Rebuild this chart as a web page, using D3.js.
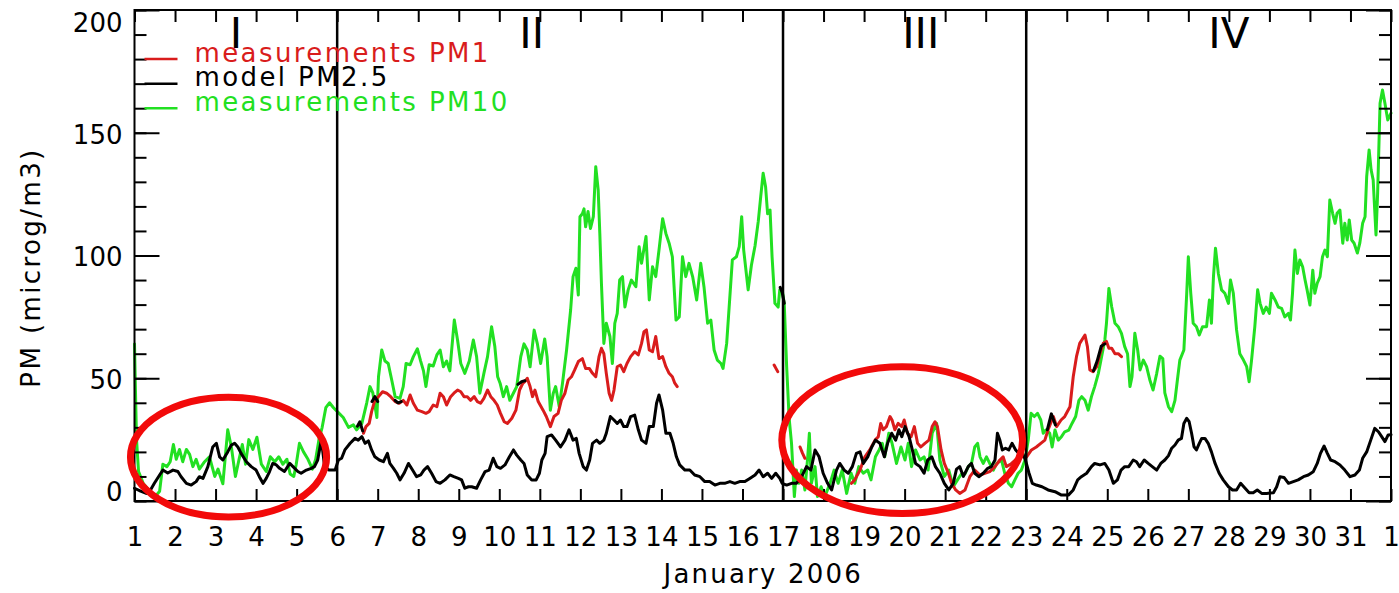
<!DOCTYPE html>
<html>
<head>
<meta charset="utf-8">
<script src="https://cdn.jsdelivr.net/npm/d3@7"></script>
<style>
  html, body { margin: 0; padding: 0; background: #fff; overflow: hidden; }
  svg { display: block; }
  text { font-family: "DejaVu Sans", sans-serif; }
</style>
</head>
<body>
<svg id="chart" width="1399" height="593"></svg>
<script>
// ---- tick values and labels ----
const dayTicks = d3.range(1, 33);                       // 1 Jan ... 1 Feb
const dayLabels = [...d3.range(1, 32).map(String), "1"];
const pmMajorTicks = [0, 50, 100, 150, 200];
const pmMinorTicks = d3.range(0, 201, 10);

// ---- episodes ----
const periodNames = ["I", "II", "III", "IV"];
const periodNameDays = [3.5, 10.8, 20.4, 28.0];
const periodBounds = [6, 17, 23];

// ---- legend ----
const seriesNames = ["measurements PM1", "model PM2.5", "measurements PM10"];

// ---- measured PM10 [day, microg/m3] ----
const pm10 = [
  [1.00,64],[1.02,48],[1.05,25],[1.10,12],[1.22,7],[1.38,4],[1.52,2],[1.62,4],[1.70,15],[1.80,14],
  [1.88,16],[1.96,23],[2.03,17],[2.11,21],[2.19,16],[2.28,21],[2.36,19],[2.44,14],[2.52,17],[2.60,13],
  [2.73,16],[2.85,18],[2.98,10],[3.06,13],[3.18,7],[3.30,29],[3.39,22],[3.49,10],[3.58,17],[3.66,23],
  [3.74,15],[3.82,25],[3.92,21],[4.02,26],[4.13,15],[4.25,12],[4.35,18],[4.46,16],[4.56,18],[4.66,15],
  [4.76,17],[4.84,11],[4.93,10],[4.99,15],[5.07,23.5],[5.17,20],[5.28,17],[5.39,13],[5.47,17],[5.55,25],
  [5.63,30],[5.72,38],[5.81,40],[5.91,38],[6.03,36],[6.15,34],[6.28,30],[6.40,31],[6.48,29],[6.61,31.6],
  [6.73,40],[6.81,46.6],[6.88,44],[6.92,40],[6.98,34],[7.02,50.6],[7.10,61.5],[7.18,57],[7.26,56],[7.35,49],
  [7.43,42.5],[7.55,41.8],[7.63,46.6],[7.70,56],[7.80,55.5],[7.88,58.8],[7.98,62],[8.06,57],[8.13,53],[8.19,46.6],
  [8.27,55.5],[8.37,55],[8.46,59.5],[8.54,61.5],[8.62,54.7],[8.70,57],[8.78,53],[8.89,73.7],[8.97,65.6],[9.05,56],
  [9.15,52],[9.26,57],[9.36,65.6],[9.44,58.8],[9.52,43.9],[9.62,52],[9.71,58.8],[9.81,71],[9.89,62.9],[9.96,50.6],
  [10.02,48],[10.10,42.5],[10.18,46.6],[10.26,41],[10.35,44],[10.43,46.6],[10.53,58.8],[10.61,64],[10.69,61.5],[10.76,54.7],
  [10.86,69.6],[10.94,64],[11.02,56],[11.08,62],[11.12,66],[11.18,58.8],[11.26,37],[11.33,43.8],[11.39,46.6],[11.48,38.4],
  [11.56,48],[11.66,61.5],[11.76,77.8],[11.82,91.4],[11.89,94.8],[11.95,83.9],[11.99,115.8],[12.05,117],[12.09,119],[12.13,111.7],
  [12.19,117.9],[12.25,111],[12.32,115.8],[12.38,136.2],[12.44,126.7],[12.48,109],[12.52,88.7],[12.58,64.2],[12.64,72.4],[12.73,67],
  [12.79,56],[12.85,72.4],[12.91,76.4],[12.97,90],[13.04,91.4],[13.10,79],[13.18,86],[13.26,90],[13.37,87.3],[13.45,103.6],
  [13.51,96.8],[13.62,107.7],[13.70,81.9],[13.78,95.4],[13.86,91.4],[13.94,102.2],[14.03,115],[14.11,109],[14.19,105],[14.27,99.5],
  [14.36,73.7],[14.44,75],[14.52,99.5],[14.60,91.4],[14.68,96.8],[14.77,91.4],[14.87,81.9],[14.97,96.8],[15.05,87.3],[15.14,72.4],
  [15.22,73.7],[15.30,61.5],[15.38,57.4],[15.47,56],[15.52,54],[15.61,64.2],[15.70,86],[15.75,98.2],[15.85,99.5],[15.92,103.6],
  [15.98,115.8],[16.03,102.2],[16.14,86],[16.22,96],[16.31,104],[16.39,114],[16.45,124],[16.51,133.5],[16.57,128],[16.62,117],
  [16.68,118.5],[16.73,99.5],[16.80,80.5],[16.88,79],[16.92,86],[16.98,86],[17.03,80.5],[17.09,54.7],[17.15,34],[17.21,23.5],
  [17.28,1.8],[17.33,12.6],[17.39,7.2],[17.46,12.6],[17.54,4.5],[17.61,18],[17.65,27.6],[17.70,7.2],[17.79,14],[17.85,1.8],
  [17.94,5.8],[18.03,1.8],[18.16,7.2],[18.26,12.6],[18.36,7.2],[18.46,12.6],[18.57,3.1],[18.68,11.3],[18.77,7.2],[18.87,14],
  [18.98,11.3],[19.09,12.6],[19.17,8.6],[19.28,18],[19.37,20.8],[19.45,23.5],[19.51,18],[19.61,27.6],[19.69,23.5],[19.80,15.3],
  [19.91,22],[20.01,16.7],[20.09,23.5],[20.17,14],[20.27,20.8],[20.38,16.7],[20.48,18],[20.58,12.6],[20.68,27.6],[20.79,31.6],
  [20.87,16.7],[20.98,10],[21.09,12.6],[21.20,5.8],[21.32,9],[21.40,11],[21.49,11],[21.57,14],[21.65,15.3],[21.73,22],
  [21.80,23.5],[21.86,18],[21.94,15.3],[22.02,18],[22.10,15.3],[22.19,12.6],[22.27,15.3],[22.39,16.7],[22.47,11.3],[22.56,7.2],
  [22.64,5.8],[22.72,8.6],[22.80,11.3],[22.88,12.6],[22.97,16.7],[23.05,24.8],[23.12,35.7],[23.20,34.4],[23.28,35.7],[23.36,33],
  [23.42,27.6],[23.48,28.9],[23.58,27.6],[23.64,22],[23.71,28.9],[23.79,24.8],[23.87,26.2],[23.95,28.2],[24.05,28.9],[24.13,31.6],
  [24.22,34.4],[24.30,41],[24.37,42.5],[24.45,41],[24.53,37],[24.61,42.5],[24.69,46.6],[24.78,52],[24.86,58.8],[24.94,65.6],
  [24.98,72.4],[25.04,86.6],[25.11,79],[25.19,72.4],[25.27,71],[25.35,68.3],[25.43,62.9],[25.50,60],[25.56,46.6],[25.61,50.6],
  [25.68,68.3],[25.75,61.5],[25.81,53.4],[25.89,57.4],[25.97,54.7],[26.05,49.3],[26.13,45.2],[26.22,52],[26.30,59],[26.37,58],
  [26.42,44],[26.51,38.4],[26.59,36.4],[26.67,41],[26.73,49.3],[26.79,57.4],[26.89,61.5],[26.96,84.6],[27.00,99.5],[27.06,84.6],
  [27.12,72.4],[27.20,71],[27.27,67.6],[27.35,71],[27.45,71],[27.52,81.9],[27.57,72.4],[27.62,91.4],[27.67,103],[27.74,92.7],
  [27.82,86],[27.90,84.6],[27.99,80.5],[28.04,90],[28.11,84.6],[28.19,69.7],[28.27,60],[28.36,57.4],[28.44,54.7],[28.50,48.6],
  [28.56,57.4],[28.64,71],[28.71,86],[28.77,80.5],[28.85,76.4],[28.92,79],[29.00,76.4],[29.05,84.6],[29.14,81.9],[29.22,79],
  [29.30,78.5],[29.38,75],[29.47,76.4],[29.52,73.7],[29.57,84.6],[29.63,102.2],[29.69,92.7],[29.75,98.2],[29.82,95.4],[29.88,90],
  [29.93,86],[30.00,79.8],[30.07,94],[30.12,84.6],[30.18,88.7],[30.25,91.4],[30.31,99.5],[30.37,102.2],[30.43,99.5],[30.49,122.6],
  [30.56,117.2],[30.62,113.1],[30.67,117.2],[30.74,118.5],[30.81,105],[30.86,113.1],[30.92,106.3],[30.97,114.5],[31.03,106.3],[31.09,105],
  [31.17,101],[31.23,105],[31.30,113.1],[31.36,115.8],[31.40,132.1],[31.46,143],[31.51,134.8],[31.56,130.8],[31.63,108.4],[31.67,125.3],
  [31.73,162],[31.79,167.4],[31.85,162],[31.92,155.2],[32.00,158]
];

// ---- measured PM1 [day, microg/m3]; null marks a gap in the record ----
const pm1 = [
  [6.65,27.6],[6.71,30.3],[6.79,31.6],[6.85,36.4],[6.92,40.5],[7.02,42.5],[7.12,44.5],[7.22,43.9],[7.32,42.5],[7.43,40.5],
  [7.53,39.8],[7.63,41],[7.72,39.1],[7.80,43.2],[7.88,39.8],[7.98,37],[8.09,36.4],[8.19,35.7],[8.27,36.4],[8.37,39.1],
  [8.46,38.4],[8.54,43.9],[8.62,42.5],[8.70,39.1],[8.80,42.5],[8.88,43.9],[8.97,45.2],[9.05,44.5],[9.13,42.5],[9.21,42.5],
  [9.29,41],[9.38,42.5],[9.46,40.5],[9.54,39.8],[9.62,41.8],[9.71,45.2],[9.79,42.5],[9.87,41],[9.95,39.1],[10.03,35.7],
  [10.12,32.3],[10.20,31.6],[10.31,33.7],[10.41,37],[10.50,45.2],[10.58,47.9],[10.63,48.6],[10.69,50],[10.76,46.6],[10.82,42.5],
  [10.88,45.2],[10.96,40.5],[11.08,37],[11.16,34.4],[11.26,30.3],[11.35,34.4],[11.45,35.7],[11.53,41],[11.62,43.9],[11.70,49.3],
  [11.78,50.6],[11.86,53.4],[11.95,56.8],[12.05,58],[12.13,54],[12.22,54],[12.30,52],[12.38,50.6],[12.46,58.8],[12.52,62.2],
  [12.58,60],[12.64,52],[12.71,43.9],[12.77,41],[12.83,45.2],[12.91,54.7],[12.99,55.4],[13.07,52.7],[13.15,56],[13.24,58.8],
  [13.34,60.8],[13.43,59.5],[13.51,64.2],[13.57,69],[13.63,69.7],[13.70,61.5],[13.78,60.8],[13.86,67],[13.94,58],[14.03,58.8],
  [14.11,54.7],[14.19,52],[14.27,50.6],[14.33,48],[14.39,46.6],
  null,
  [16.78,55.4],[16.87,52.7],
  null,
  [17.42,22],[17.48,19.5],[17.54,17.4],
  null,
  [18.69,7.2],[18.77,8.6],[18.90,12.6],[19.02,18],[19.14,20.8],[19.27,24.8],[19.35,26.2],[19.41,31.6],[19.47,29],[19.55,30.3],
  [19.64,34.4],[19.69,33],[19.76,29],[19.84,31.6],[19.93,30.3],[19.99,33],[20.07,27.6],[20.16,26.2],[20.24,30.3],[20.32,23.5],
  [20.40,22],[20.50,23.5],[20.60,24.8],[20.68,30.3],[20.75,32.3],[20.81,30.3],[20.90,20.8],[20.98,15.3],[21.08,11.3],[21.16,7.2],
  [21.26,4.5],[21.36,3.1],[21.49,4.5],[21.61,9.9],[21.73,12.6],[21.86,10.6],[21.98,11.3],[22.10,12],[22.23,14],[22.35,16.7],
  [22.43,18],[22.51,14],[22.62,15],[22.75,17],[22.88,18],[23.01,18],[23.13,20.8],[23.25,22],[23.36,23.5],[23.46,24.8],
  [23.54,29],[23.67,34.4],[23.75,30.3],[23.86,33],[23.95,34.4],[24.08,38.4],[24.16,50.6],[24.24,58.8],[24.32,64.2],[24.45,67.6],
  [24.51,62.9],[24.57,53.4],[24.65,52.7],[24.74,54.7],[24.82,60],[24.90,64.2],[24.98,65],[25.04,62.2],[25.11,62.2],[25.19,60],
  [25.27,60],[25.35,58.8]
];

// ---- modelled PM2.5 [day, microg/m3] ----
const model25 = [
  [1.00,5.2],[1.15,4],[1.29,3.1],[1.37,3.8],[1.49,7.2],[1.62,10.6],[1.70,12.6],[1.82,11.4],[1.95,12.6],[2.07,12],
  [2.15,9.9],[2.28,7.2],[2.40,6.5],[2.52,7.9],[2.60,9.9],[2.69,9.2],[2.81,14],[2.93,22],[3.02,23.5],[3.10,18],
  [3.18,16.7],[3.30,20],[3.39,22.8],[3.47,23.5],[3.55,22],[3.63,19.4],[3.76,16],[3.88,14],[4.00,12.6],[4.08,9.9],
  [4.17,7.2],[4.25,9.2],[4.33,11.9],[4.41,15.3],[4.50,14.7],[4.58,13.3],[4.70,12],[4.83,15.3],[4.91,14],[5.03,12],
  [5.11,11.3],[5.24,12.6],[5.36,13.3],[5.44,14],[5.52,16.7],[5.61,25],[5.69,14],[5.80,12.6],[5.95,12.6],[6.03,16.7],
  [6.11,17.4],[6.19,20.8],[6.32,23.5],[6.44,25.5],[6.52,24.8],[6.61,26.2],[6.69,23.5],[6.77,24.5],[6.85,20.8],[6.93,18],
  [7.04,16.7],[7.14,16],[7.24,19.4],[7.30,15.3],[7.39,13.3],[7.47,11.3],[7.55,8.6],[7.65,11.3],[7.76,15.3],[7.86,12.6],
  [7.96,9.9],[8.06,10.6],[8.14,12.6],[8.23,14],[8.33,11.3],[8.44,7.9],[8.54,7.2],[8.66,8.6],[8.78,10.6],[8.88,9.9],
  [8.99,9.2],[9.07,8.6],[9.15,5.2],[9.24,5.8],[9.32,5.8],[9.44,5.2],[9.54,8.6],[9.65,12],[9.75,12.6],[9.85,17.4],
  [9.94,14],[10.03,13.3],[10.14,14.7],[10.25,18],[10.35,20.8],[10.43,18.7],[10.53,16.7],[10.61,15.3],[10.69,10.6],[10.80,8.6],
  [10.91,8.6],[10.99,11.3],[11.05,16.7],[11.13,19.4],[11.18,26.2],[11.29,26.9],[11.39,24.8],[11.51,22],[11.62,24.8],[11.72,29],
  [11.82,24.8],[11.90,25.5],[11.97,19.4],[12.07,14],[12.15,12.6],[12.23,16.7],[12.30,23.5],[12.40,24.8],[12.48,23.5],[12.58,24.8],
  [12.64,27.6],[12.74,34.4],[12.83,33],[12.91,31.6],[12.99,33],[13.07,30.3],[13.15,30.3],[13.24,34.4],[13.34,35],[13.43,29],
  [13.51,24.8],[13.62,23.5],[13.70,30.3],[13.80,30.3],[13.88,39.8],[13.94,43.2],[14.03,37],[14.11,27.6],[14.21,27.6],[14.29,23.5],
  [14.37,18],[14.45,14.7],[14.58,12.6],[14.70,12.6],[14.82,10.6],[14.95,9.9],[15.07,7.9],[15.19,7.9],[15.32,6.5],[15.44,7.2],
  [15.56,7.2],[15.69,7.9],[15.81,7.2],[15.93,7.9],[16.06,7.9],[16.18,9.2],[16.31,10.6],[16.41,12.6],[16.51,9.9],[16.62,11.3],
  [16.72,9.2],[16.82,11.3],[16.92,9.2],[16.98,7.2],[17.09,6.5],[17.21,7.2],[17.33,7.2],[17.46,9.9],[17.58,14],[17.69,12.6],
  [17.79,20.8],[17.89,18],[17.99,11.3],[18.10,7.2],[18.20,4.5],[18.32,12.6],[18.40,15.3],[18.51,12.6],[18.61,11.3],[18.71,14],
  [18.81,19.4],[18.90,20],[18.98,15.3],[19.09,18],[19.19,22],[19.28,24.8],[19.39,23.5],[19.50,18],[19.58,23.5],[19.68,27.6],
  [19.78,24.8],[19.86,29],[19.93,26.2],[20.01,30.3],[20.11,26.2],[20.19,20.8],[20.27,15.3],[20.38,14],[20.48,11.3],[20.57,16.7],
  [20.67,18],[20.76,14],[20.87,11.3],[20.98,7.2],[21.09,4.5],[21.20,7.2],[21.28,13],[21.36,14],[21.45,10],[21.57,14],
  [21.65,15.3],[21.73,11.3],[21.83,9.9],[21.94,11.3],[22.05,13.3],[22.14,14],[22.23,16.7],[22.29,27.6],[22.35,24.8],[22.41,20.8],
  [22.49,21.5],[22.57,20.8],[22.65,23.5],[22.74,20.8],[22.82,19.4],[22.88,20.8],[22.98,16.7],[23.07,11.3],[23.15,7.2],[23.25,6.5],
  [23.39,5.8],[23.54,4.5],[23.71,3.8],[23.87,2.4],[24.04,2.4],[24.16,4.5],[24.27,8.6],[24.36,9.9],[24.49,11.3],[24.61,14],
  [24.69,15.3],[24.82,14.7],[24.94,15.3],[25.04,12.6],[25.15,7.2],[25.25,8.6],[25.34,12.6],[25.43,14],[25.53,14],[25.64,16.7],
  [25.72,16],[25.80,14],[25.91,16.7],[26.01,15.3],[26.11,14],[26.22,12.6],[26.32,15.3],[26.42,16.7],[26.51,18.5],[26.59,21.5],
  [26.67,22.8],[26.75,24.8],[26.83,25.5],[26.89,31.6],[26.96,33.7],[27.02,32.3],[27.08,27.6],[27.14,22.1],[27.20,20.8],[27.27,23.5],
  [27.33,25.5],[27.41,25.5],[27.49,23.5],[27.57,20],[27.66,15.3],[27.76,11.3],[27.86,8.6],[27.99,5.8],[28.09,4.5],[28.19,4.5],
  [28.29,7.2],[28.40,5.2],[28.50,3.4],[28.60,3.4],[28.70,4.5],[28.81,3.1],[28.93,3.1],[29.10,3.4],[29.18,5.8],[29.26,9.9],
  [29.36,9.6],[29.47,7.2],[29.59,7.9],[29.71,8.6],[29.84,9.9],[29.96,10.6],[30.08,11.9],[30.18,15.3],[30.26,19.4],[30.35,22.4],
  [30.43,19.4],[30.51,16.7],[30.62,16],[30.74,14.7],[30.86,12.6],[30.99,9.9],[31.11,10.6],[31.22,12.6],[31.30,17.4],[31.40,20],
  [31.50,24.8],[31.60,29.6],[31.69,28.2],[31.77,26.2],[31.85,24.2],[31.93,26.9],[32.00,27]
];

// ---- short black fragments plotted with the measurements ----
const pm25Obs = [
  [6.50,30.5],[6.56,32.3],[6.63,28.5], null,
  [6.86,40.5],[6.93,42.5],[7.00,40.5], null,
  [7.43,41],[7.50,40],[7.58,40.5], null,
  [10.46,47.5],[10.55,48.6],[10.63,49], null,
  [16.93,87],[16.98,85],[17.03,80.5], null,
  [23.52,29],[23.62,35.5],[23.72,31], null,
  [24.66,53],[24.75,57],[24.85,63],[24.94,64]
];

// ---- highlighted episodes: [centre day, centre value, half-width days, half-height value] ----
const highlights = [
  [3.32, 17.9, 2.42, 24.4],
  [19.94, 24.8, 2.97, 29.9]
];

// ================= drawing =================
const W = 1399, H = 593;
const svg = d3.select("#chart");

const x = d3.scaleLinear().domain([1, 32]).range([134.5, 1391]);
const y = d3.scaleLinear().domain([0, 200]).range([501, 10]);

const colPM1 = "#d91c1c", colModel = "#000000", colPM10 = "#22e022", colMark = "#f20a0a";

const line = d3.line()
  .defined(d => d !== null)
  .x(d => x(d[0]))
  .y(d => y(d[1]));

// data traces
const traces = svg.append("g").attr("fill", "none")
  .attr("stroke-width", 3).attr("stroke-linejoin", "round").attr("stroke-linecap", "round");
traces.append("path").datum(pm10).attr("d", line).attr("stroke", colPM10);
traces.append("path").datum(pm1).attr("d", line).attr("stroke", colPM1);
traces.append("path").datum(model25).attr("d", line).attr("stroke", colModel);
traces.append("path").datum(pm25Obs).attr("d", line).attr("stroke", colModel);

// episode dividers
svg.append("g").selectAll("line").data(periodBounds).join("line")
  .attr("x1", d => x(d)).attr("x2", d => x(d))
  .attr("y1", y(200)).attr("y2", y(0))
  .attr("stroke", "#000").attr("stroke-width", 2.5);

// episode names
svg.append("g").selectAll("text").data(periodNames).join("text")
  .attr("x", (d, i) => x(periodNameDays[i]))
  .attr("y", 48)
  .attr("text-anchor", "middle")
  .attr("font-size", 42)
  .attr("fill", "#000")
  .text(d => d);

// axes
function styleAxis(g) {
  g.select(".domain").remove();
  g.attr("font-family", "DejaVu Sans, sans-serif").attr("font-size", 26);
  g.selectAll(".tick line").attr("stroke", "#000").attr("stroke-width", 2);
  g.selectAll(".tick text").attr("fill", "#000");
}

svg.append("g").attr("transform", `translate(0,${y(0)})`)
  .call(d3.axisBottom(x).tickValues(dayTicks).tickFormat((d, i) => dayLabels[i])
    .tickSize(-12).tickSizeOuter(0).tickPadding(27))
  .call(styleAxis);

svg.append("g").attr("transform", `translate(0,${y(200)})`)
  .call(d3.axisTop(x).tickValues(dayTicks).tickFormat("").tickSize(-12).tickSizeOuter(0))
  .call(styleAxis);

svg.append("g").attr("transform", `translate(${x(1)},0)`)
  .call(d3.axisLeft(y).tickValues(pmMinorTicks).tickFormat("").tickSize(-12).tickSizeOuter(0))
  .call(styleAxis);

const leftMajor = svg.append("g").attr("transform", `translate(${x(1)},0)`)
  .call(d3.axisLeft(y).tickValues(pmMajorTicks).tickFormat(d3.format("d"))
    .tickSize(-25).tickSizeOuter(0).tickPadding(12))
  .call(styleAxis);
// keep the end labels inside the frame height
leftMajor.selectAll(".tick text")
  .attr("dy", d => d === 0 ? "-0.02em" : d === 200 ? "0.82em" : "0.4em");

svg.append("g").attr("transform", `translate(${x(32)},0)`)
  .call(d3.axisRight(y).tickValues(pmMinorTicks).tickFormat("").tickSize(-12).tickSizeOuter(0))
  .call(styleAxis);
svg.append("g").attr("transform", `translate(${x(32)},0)`)
  .call(d3.axisRight(y).tickValues(pmMajorTicks).tickFormat("").tickSize(-25).tickSizeOuter(0))
  .call(styleAxis);

// frame
svg.append("rect")
  .attr("x", x(1)).attr("y", y(200))
  .attr("width", x(32) - x(1)).attr("height", y(0) - y(200))
  .attr("fill", "none").attr("stroke", "#000").attr("stroke-width", 2);

// axis titles
svg.append("text")
  .attr("x", (x(1) + x(32)) / 2 + 0.5).attr("y", 583)
  .attr("text-anchor", "middle").attr("font-size", 26).attr("letter-spacing", "2.2px")
  .attr("fill", "#000")
  .text("January 2006");

svg.append("text")
  .attr("transform", `translate(40,${(y(0) + y(200)) / 2 + 12}) rotate(-90)`)
  .attr("text-anchor", "middle").attr("font-size", 26).attr("letter-spacing", "2.4px")
  .attr("fill", "#000")
  .text("PM (microg/m3)");

// legend
const legendColors = [colPM1, colModel, colPM10];
const legendLevels = [180, 170, 160];
const legend = svg.append("g");
seriesNames.forEach((name, i) => {
  const ly = y(legendLevels[i]);
  legend.append("line")
    .attr("x1", x(1) + 10).attr("x2", x(1) + 43)
    .attr("y1", ly).attr("y2", ly)
    .attr("stroke", legendColors[i]).attr("stroke-width", 2.5);
  legend.append("text")
    .attr("x", x(1) + 60).attr("y", ly + 2.5)
    .attr("font-size", 26).attr("letter-spacing", "2.4px")
    .attr("fill", legendColors[i])
    .text(name);
});

// highlight rings
svg.append("g").selectAll("ellipse").data(highlights).join("ellipse")
  .attr("cx", d => x(d[0]))
  .attr("cy", d => y(d[1]))
  .attr("rx", d => x(d[0] + d[2]) - x(d[0]))
  .attr("ry", d => y(0) - y(d[3]))
  .attr("fill", "none")
  .attr("stroke", colMark)
  .attr("stroke-width", 7);
</script>
</body>
</html>
